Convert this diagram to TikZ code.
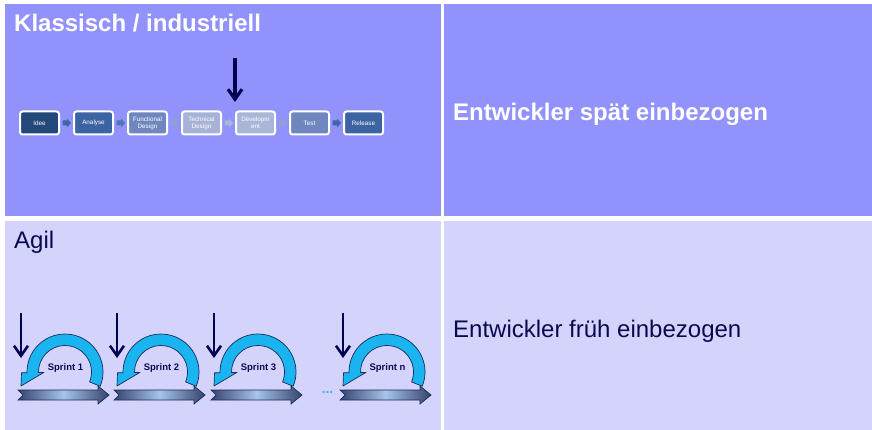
\documentclass[tikz,border=0pt]{standalone}
\usepackage{fontspec}
\setmainfont{Liberation Sans}
\usetikzlibrary{arrows.meta,calc}
\definecolor{topbg}{HTML}{9292FD}
\definecolor{botbg}{HTML}{D4D3FC}
\definecolor{navy}{HTML}{000050}
\definecolor{txtnavy}{HTML}{0A0A50}
\definecolor{cyanarc}{HTML}{1AB4F0}
\definecolor{arcline}{HTML}{1A2A5A}
\definecolor{cA}{HTML}{23497A}
\definecolor{cB}{HTML}{3C64A2}
\definecolor{cC}{HTML}{6F87BE}
\definecolor{cD}{HTML}{A6B3D7}
\definecolor{cE}{HTML}{A9B6D6}
\definecolor{aA}{HTML}{3F66A8}
\definecolor{aB}{HTML}{5076B6}
\definecolor{aC}{HTML}{8FA1CF}
\definecolor{aD}{HTML}{A9B6D6}
\definecolor{barend}{HTML}{34446E}
\definecolor{barmid}{HTML}{A8C4E8}
\definecolor{dotcol}{HTML}{40B0F0}
\tikzset{
  pbox/.style={draw=white, line width=2pt, rounded corners=2.5pt, minimum width=39pt,
    minimum height=23pt, inner sep=0pt, align=center, text=white,
    font=\fontsize{6.3}{7}\selectfont},
  downarr/.style={draw=navy, line width=#1, -{Straight Barb[length=10pt,width=14pt]}},
  circarrow/.style={fill=cyanarc, draw=arcline, line width=0.7pt, line join=round},
  hbar/.style={left color=barend, right color=barend, middle color=barmid,
    draw=arcline, line width=0.7pt},
  sprintlbl/.style={font=\bfseries\fontsize{9.5}{11}\selectfont, text=txtnavy, inner sep=0pt},
  bigtxt/.style={font=\fontsize{24}{28}\selectfont, inner sep=0pt, anchor=base west}
}
\newcommand\procarrow[3]{%
  \fill[#3] ($(#1.east)!0.5!(#2.west)$) ++(-4,2.5) -- ++(4.5,0) -- ++(0,2) -- ++(4,-4.5)
    -- ++(-4,-4.5) -- ++(0,2) -- ++(-4.5,0) -- cycle;
}
\newcommand\sprintgroup[3]{%
  \coordinate (#3top) at (#1,-313);
  \coordinate (#3bot) at (#1,-358);
  \draw[downarr=2.6pt] (#3top) -- (#3bot);
  \begin{scope}[shift={(#1+44,-372)}]
    \filldraw[circarrow] (-22:38) arc[start angle=-22,end angle=181,radius=38]
      -- (181:43.5) -- (-44,-14) -- (181:21) -- (181:26.5)
      arc[start angle=181,end angle=-22,radius=26.5] -- cycle;
  \end{scope}
  \shadedraw[hbar] (#1-3,-390) -- (#1+77,-390) -- (#1+77,-386) -- (#1+88,-395)
    -- (#1+77,-404) -- (#1+77,-400) -- (#1-3,-400) -- (#1+2,-395) -- cycle;
  \node[sprintlbl] (#3) at (#1+44.5,-368) {#2};
}
\begin{document}
\begin{tikzpicture}[x=1pt,y=1pt]
\useasboundingbox (0,0) rectangle (872,-430);
\fill[white] (0,0) rectangle (872,-430);
\fill[topbg] (5,-4) rectangle (441,-216);
\fill[topbg] (444,-4) rectangle (872,-216);
\fill[botbg] (5,-221) rectangle (441,-430);
\fill[botbg] (444,-221) rectangle (872,-430);

\node[bigtxt, text=white, font=\bfseries\fontsize{24}{28}\selectfont] (title) at (14,-32) {Klassisch / industriell};
\node[bigtxt, text=white, font=\bfseries\fontsize{24}{28}\selectfont] (spaet) at (453,-121) {Entwickler spät einbezogen};
\node[bigtxt, text=txtnavy] (agil) at (14,-249) {Agil};
\node[bigtxt, text=txtnavy] (frueh) at (453,-337) {Entwickler früh einbezogen};

\node[pbox, fill=cA] (idee) at (39.5,-123) {Idee};
\node[pbox, fill=cB] (analyse) at (93.5,-123) {Analyse};
\node[pbox, fill=cC] (func) at (147.5,-123) {Functional\\Design};
\node[pbox, fill=cD] (tech) at (201.5,-123) {Technical\\Design};
\node[pbox, fill=cE] (dev) at (255.5,-123) {Developm\\ent};
\node[pbox, fill=cC] (test) at (309.5,-123) {Test};
\node[pbox, fill=cB] (release) at (363.5,-123) {Release};

\procarrow{idee}{analyse}{aA}
\procarrow{analyse}{func}{aB}
\procarrow{func}{tech}{aC}
\procarrow{tech}{dev}{aD}
\procarrow{dev}{test}{aC}
\procarrow{test}{release}{aA}

\coordinate (devtop) at (235,-58);
\coordinate (devtip) at (235,-102);
\draw[downarr=3.2pt] (devtop) -- (devtip);

\sprintgroup{21}{Sprint 1}{s1}
\sprintgroup{117}{Sprint 2}{s2}
\sprintgroup{214}{Sprint 3}{s3}
\sprintgroup{343}{Sprint n}{sn}

\node[inner sep=0pt, anchor=base, text=dotcol, font=\bfseries\fontsize{14}{14}\selectfont] (dots) at (327.5,-393) {...};
\end{tikzpicture}
\end{document}
